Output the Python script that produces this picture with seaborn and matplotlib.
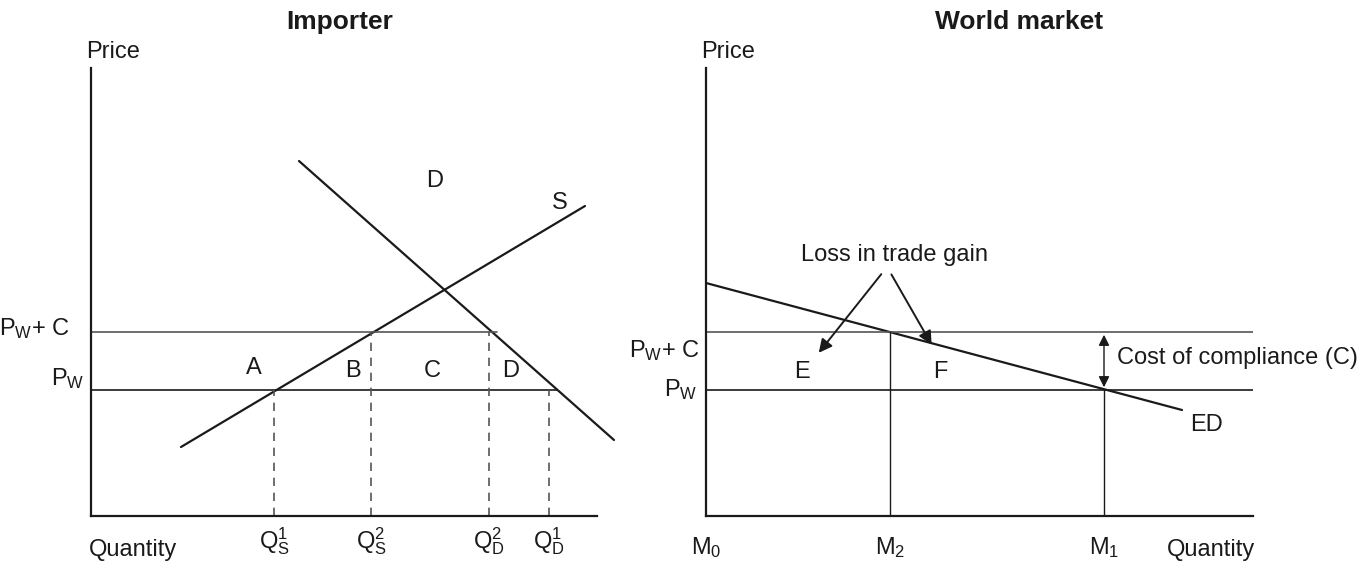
"""Importer / world market diagram for compliance costs."""

import matplotlib

matplotlib.use("Agg")
import matplotlib.pyplot as plt
import pandas as pd
import seaborn as sns

# price levels (shared by both panels)
pw = 126
pw_c = 184

# importer panel
supply_q = [90, 494]
supply_p = [69, 310]
demand_q = [208, 523]
demand_p = [355, 76]
pw_line_end = 466
pwc_line_end = 406
importer_ticks = [183, 280, 398, 458]
importer_tick_labels = [
    r"$\mathrm{Q}_{\mathrm{S}}^{1}$",
    r"$\mathrm{Q}_{\mathrm{S}}^{2}$",
    r"$\mathrm{Q}_{\mathrm{D}}^{2}$",
    r"$\mathrm{Q}_{\mathrm{D}}^{1}$",
]
tick_tops = [pw, pw_c, pw_c, pw]
area_labels = ["A", "B", "C", "D"]
area_q = [163, 262, 341, 420]
area_p = [148, 145, 145, 145]

# world market panel
ed_q = [0, 476]
ed_p = [233, 106]
world_ticks = [0, 184, 398]
world_tick_labels = [r"$\mathrm{M}_{0}$", r"$\mathrm{M}_{2}$", r"$\mathrm{M}_{1}$"]
loss_text_pos = (188, 261)
loss_tails = [(177, 244), (184, 244)]
loss_heads = [(111, 161), (227, 169)]

sns.set_theme(style="white")
plt.rcParams["font.family"] = ["Liberation Sans", "DejaVu Sans"]
plt.rcParams["mathtext.fontset"] = "custom"
plt.rcParams["mathtext.rm"] = "Liberation Sans"
plt.rcParams["mathtext.it"] = "Liberation Sans"
plt.rcParams["mathtext.bf"] = "Liberation Sans:bold"

FS = 17
INK = "#1a1a1a"
GREY = "#555555"

fig = plt.figure(figsize=(13.72, 5.66), dpi=100)
W, H = 1372, 566
ax1 = fig.add_axes([91 / W, 50 / H, 506 / W, 448 / H])
ax2 = fig.add_axes([706 / W, 50 / H, 547 / W, 448 / H])

for ax, width, pad in ((ax1, 506, 7), (ax2, 547, 14)):
    ax.set_xlim(0, width)
    ax.set_ylim(0, 448)
    sns.despine(ax=ax)
    for side in ("left", "bottom"):
        ax.spines[side].set_color(INK)
        ax.spines[side].set_linewidth(1.6)
    ax.set_yticks([])
    ax.tick_params(axis="x", length=0, pad=pad, labelsize=FS, colors=INK)
    ax.text(-5, 464, "Price", fontsize=FS, ha="left", va="center", color=INK, clip_on=False)

# ---- importer ----
curves = pd.DataFrame({"q": supply_q + demand_q, "p": supply_p + demand_p,
                       "curve": ["S", "S", "D", "D"]})
sns.lineplot(data=curves, x="q", y="p", units="curve", estimator=None,
             color=INK, lw=1.6, ax=ax1, sort=False, clip_on=False)
ax1.plot([0, pw_line_end], [pw, pw], color=INK, lw=1.2)
ax1.plot([0, pwc_line_end], [pw_c, pw_c], color=GREY, lw=1.2)
for q, top in zip(importer_ticks, tick_tops):
    ax1.plot([q, q], [0, top], color=GREY, lw=1.2, ls=(0, (5, 4)))
ax1.set_xticks(importer_ticks, importer_tick_labels)
for lab, q, p in zip(area_labels, area_q, area_p):
    ax1.text(q, p, lab, fontsize=FS, ha="center", va="center", color=INK)
ax1.text(344, 335, "D", fontsize=FS, ha="center", va="center", color=INK)
ax1.text(469, 313, "S", fontsize=FS, ha="center", va="center", color=INK)
ax1.text(-21, pw_c + 3, r"$\mathrm{P}_{\mathrm{W}}$+ C", fontsize=FS,
         ha="right", va="center", color=INK, clip_on=False)
ax1.text(-6, pw + 11, r"$\mathrm{P}_{\mathrm{W}}$", fontsize=FS,
         ha="right", va="center", color=INK, clip_on=False)
ax1.text(42, -34, "Quantity", fontsize=FS, ha="center", va="center", color=INK, clip_on=False)
ax1.text(249, 494, "Importer", fontsize=19, fontweight="bold",
         ha="center", va="center", color=INK, clip_on=False)

# ---- world market ----
ed = pd.DataFrame({"q": ed_q, "p": ed_p})
sns.lineplot(data=ed, x="q", y="p", color=INK, lw=1.6, ax=ax2, sort=False)
ax2.axhline(pw, color=INK, lw=1.2)
ax2.axhline(pw_c, color=GREY, lw=1.2)
ax2.plot([world_ticks[1]] * 2, [0, pw_c], color=INK, lw=1.0)
ax2.plot([world_ticks[2]] * 2, [0, pw], color=INK, lw=1.0)
ax2.annotate("", xy=(world_ticks[2], pw_c), xytext=(world_ticks[2], pw),
             arrowprops=dict(arrowstyle="<|-|>", color=INK, lw=1.0, mutation_scale=16))
ax2.set_xticks(world_ticks, world_tick_labels)
ax2.text(loss_text_pos[0], loss_text_pos[1], "Loss in trade gain", fontsize=FS,
         ha="center", va="center", color=INK)
for tail, head in zip(loss_tails, loss_heads):
    ax2.annotate("", xy=head, xytext=tail,
                 arrowprops=dict(arrowstyle="-|>", color=INK, lw=1.4, mutation_scale=20))
ax2.text(96, 144, "E", fontsize=FS, ha="center", va="center", color=INK)
ax2.text(234, 144, "F", fontsize=FS, ha="center", va="center", color=INK)
ax2.text(411, 158, "Cost of compliance (C)", fontsize=FS, ha="left", va="center", color=INK)
ax2.text(501, 91, "ED", fontsize=FS, ha="center", va="center", color=INK)
ax2.text(-6, pw_c - 19, r"$\mathrm{P}_{\mathrm{W}}$+ C", fontsize=FS,
         ha="right", va="center", color=INK, clip_on=False)
ax2.text(-8, pw, r"$\mathrm{P}_{\mathrm{W}}$", fontsize=FS,
         ha="right", va="center", color=INK, clip_on=False)
ax2.text(505, -34, "Quantity", fontsize=FS, ha="center", va="center", color=INK, clip_on=False)
ax2.text(313, 494, "World market", fontsize=19, fontweight="bold",
         ha="center", va="center", color=INK, clip_on=False)

for ax in (ax1, ax2):
    ax.set_xlabel("")
    ax.set_ylabel("")
    if ax.get_legend() is not None:
        ax.get_legend().remove()

fig.savefig("out.png", dpi=100)
plt.close(fig)
